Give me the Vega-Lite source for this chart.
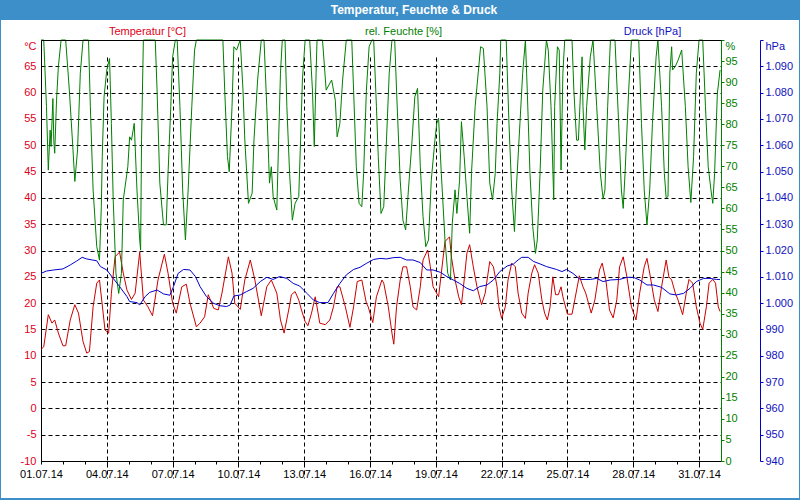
{
  "$schema": "https://vega.github.io/schema/vega-lite/v6.json",
  "background": "#3d8fca",
  "padding": {"left": 1, "top": 0, "right": 1, "bottom": 2},
  "spacing": 0,
  "config": {
    "view": {"stroke": null},
    "font": "Liberation Sans",
    "axis": {"labelFont": "Liberation Sans", "titleFont": "Liberation Sans", "labelFontSize": 11, "titleFontSize": 11, "titleFontWeight": "normal", "domainWidth": 1}
  },
  "datasets": {
    "temp": [{"t":"2014-07-01T00:00","v":11.2},{"t":"2014-07-01T03:00","v":11.7},{"t":"2014-07-01T08:00","v":17.8},{"t":"2014-07-01T12:00","v":16.2},{"t":"2014-07-01T15:00","v":16.8},{"t":"2014-07-01T19:00","v":14.3},{"t":"2014-07-02T00:00","v":11.9},{"t":"2014-07-02T03:00","v":11.9},{"t":"2014-07-02T08:00","v":16.8},{"t":"2014-07-02T13:00","v":19.7},{"t":"2014-07-02T17:00","v":18.1},{"t":"2014-07-02T22:00","v":12.7},{"t":"2014-07-03T02:00","v":10.5},{"t":"2014-07-03T05:00","v":10.8},{"t":"2014-07-03T09:00","v":19.3},{"t":"2014-07-03T13:00","v":23.8},{"t":"2014-07-03T16:00","v":24.4},{"t":"2014-07-03T20:00","v":18.1},{"t":"2014-07-03T22:00","v":14.9},{"t":"2014-07-04T02:00","v":14.3},{"t":"2014-07-04T05:00","v":21.9},{"t":"2014-07-04T09:00","v":28.8},{"t":"2014-07-04T14:00","v":29.7},{"t":"2014-07-04T18:00","v":25.7},{"t":"2014-07-04T22:00","v":22.5},{"t":"2014-07-05T03:00","v":20.7},{"t":"2014-07-05T07:00","v":21.9},{"t":"2014-07-05T12:00","v":29.7},{"t":"2014-07-05T16:00","v":20.6},{"t":"2014-07-05T21:00","v":19.3},{"t":"2014-07-06T02:00","v":17.6},{"t":"2014-07-06T08:00","v":24.4},{"t":"2014-07-06T15:00","v":29.3},{"t":"2014-07-06T19:00","v":25.7},{"t":"2014-07-07T00:00","v":20.0},{"t":"2014-07-07T04:00","v":18.1},{"t":"2014-07-07T10:00","v":23.1},{"t":"2014-07-07T15:00","v":23.6},{"t":"2014-07-07T19:00","v":20.0},{"t":"2014-07-08T02:00","v":15.5},{"t":"2014-07-08T06:00","v":16.2},{"t":"2014-07-08T11:00","v":17.4},{"t":"2014-07-08T15:00","v":21.6},{"t":"2014-07-08T21:00","v":19.0},{"t":"2014-07-09T02:00","v":18.7},{"t":"2014-07-09T06:00","v":21.9},{"t":"2014-07-09T13:00","v":28.8},{"t":"2014-07-09T17:00","v":25.7},{"t":"2014-07-09T20:00","v":20.0},{"t":"2014-07-10T02:00","v":18.8},{"t":"2014-07-10T07:00","v":24.4},{"t":"2014-07-10T13:00","v":28.2},{"t":"2014-07-10T18:00","v":24.4},{"t":"2014-07-11T01:00","v":17.6},{"t":"2014-07-11T07:00","v":23.1},{"t":"2014-07-11T12:00","v":24.4},{"t":"2014-07-11T18:00","v":21.9},{"t":"2014-07-11T21:00","v":18.1},{"t":"2014-07-11T22:00","v":16.8},{"t":"2014-07-12T02:00","v":14.3},{"t":"2014-07-12T07:00","v":18.7},{"t":"2014-07-12T10:00","v":21.6},{"t":"2014-07-12T14:00","v":22.2},{"t":"2014-07-12T18:00","v":20.6},{"t":"2014-07-12T21:00","v":18.7},{"t":"2014-07-13T01:00","v":16.5},{"t":"2014-07-13T04:00","v":15.7},{"t":"2014-07-13T08:00","v":18.1},{"t":"2014-07-13T12:00","v":21.2},{"t":"2014-07-13T14:00","v":19.3},{"t":"2014-07-13T17:00","v":16.2},{"t":"2014-07-13T23:00","v":15.9},{"t":"2014-07-14T04:00","v":16.8},{"t":"2014-07-14T08:00","v":19.3},{"t":"2014-07-14T12:00","v":23.1},{"t":"2014-07-14T15:00","v":23.1},{"t":"2014-07-14T21:00","v":19.3},{"t":"2014-07-15T02:00","v":15.4},{"t":"2014-07-15T06:00","v":19.3},{"t":"2014-07-15T10:00","v":24.1},{"t":"2014-07-15T15:00","v":24.4},{"t":"2014-07-15T20:00","v":20.0},{"t":"2014-07-15T22:00","v":19.3},{"t":"2014-07-16T03:00","v":16.3},{"t":"2014-07-16T07:00","v":21.2},{"t":"2014-07-16T13:00","v":24.4},{"t":"2014-07-16T15:00","v":23.8},{"t":"2014-07-16T20:00","v":19.3},{"t":"2014-07-17T00:00","v":14.3},{"t":"2014-07-17T02:00","v":12.2},{"t":"2014-07-17T05:00","v":19.3},{"t":"2014-07-17T09:00","v":24.4},{"t":"2014-07-17T12:00","v":26.9},{"t":"2014-07-17T16:00","v":26.9},{"t":"2014-07-17T20:00","v":23.1},{"t":"2014-07-17T23:00","v":19.3},{"t":"2014-07-18T03:00","v":18.7},{"t":"2014-07-18T07:00","v":23.1},{"t":"2014-07-18T10:00","v":28.2},{"t":"2014-07-18T15:00","v":30.1},{"t":"2014-07-18T18:00","v":26.9},{"t":"2014-07-18T21:00","v":23.1},{"t":"2014-07-19T03:00","v":21.2},{"t":"2014-07-19T06:00","v":25.7},{"t":"2014-07-19T10:00","v":31.7},{"t":"2014-07-19T15:00","v":32.6},{"t":"2014-07-19T17:00","v":28.8},{"t":"2014-07-19T21:00","v":24.4},{"t":"2014-07-20T01:00","v":21.2},{"t":"2014-07-20T04:00","v":19.7},{"t":"2014-07-20T07:00","v":24.4},{"t":"2014-07-20T10:00","v":29.5},{"t":"2014-07-20T13:00","v":31.1},{"t":"2014-07-20T17:00","v":26.9},{"t":"2014-07-20T21:00","v":23.1},{"t":"2014-07-21T02:00","v":19.7},{"t":"2014-07-21T06:00","v":21.9},{"t":"2014-07-21T11:00","v":27.9},{"t":"2014-07-21T15:00","v":26.9},{"t":"2014-07-21T19:00","v":23.1},{"t":"2014-07-21T21:00","v":19.3},{"t":"2014-07-22T00:00","v":17.1},{"t":"2014-07-22T04:00","v":19.3},{"t":"2014-07-22T07:00","v":24.4},{"t":"2014-07-22T11:00","v":27.6},{"t":"2014-07-22T15:00","v":26.9},{"t":"2014-07-22T18:00","v":21.9},{"t":"2014-07-22T22:00","v":18.1},{"t":"2014-07-23T02:00","v":17.1},{"t":"2014-07-23T05:00","v":21.9},{"t":"2014-07-23T09:00","v":25.7},{"t":"2014-07-23T12:00","v":27.3},{"t":"2014-07-23T16:00","v":25.7},{"t":"2014-07-23T20:00","v":20.6},{"t":"2014-07-23T23:00","v":18.1},{"t":"2014-07-24T02:00","v":16.8},{"t":"2014-07-24T05:00","v":19.3},{"t":"2014-07-24T08:00","v":25.0},{"t":"2014-07-24T11:00","v":21.6},{"t":"2014-07-24T14:00","v":21.6},{"t":"2014-07-24T17:00","v":23.1},{"t":"2014-07-24T19:00","v":21.2},{"t":"2014-07-25T00:00","v":17.9},{"t":"2014-07-25T05:00","v":17.9},{"t":"2014-07-25T08:00","v":20.6},{"t":"2014-07-25T13:00","v":25.2},{"t":"2014-07-25T17:00","v":23.1},{"t":"2014-07-25T20:00","v":21.9},{"t":"2014-07-25T23:00","v":20.0},{"t":"2014-07-26T02:00","v":18.1},{"t":"2014-07-26T06:00","v":20.6},{"t":"2014-07-26T11:00","v":26.3},{"t":"2014-07-26T14:00","v":27.6},{"t":"2014-07-26T18:00","v":24.4},{"t":"2014-07-26T22:00","v":18.7},{"t":"2014-07-27T02:00","v":17.2},{"t":"2014-07-27T06:00","v":20.6},{"t":"2014-07-27T09:00","v":26.9},{"t":"2014-07-27T13:00","v":28.8},{"t":"2014-07-27T17:00","v":25.0},{"t":"2014-07-27T22:00","v":19.3},{"t":"2014-07-28T03:00","v":16.8},{"t":"2014-07-28T07:00","v":21.9},{"t":"2014-07-28T12:00","v":26.9},{"t":"2014-07-28T15:00","v":28.5},{"t":"2014-07-28T18:00","v":25.7},{"t":"2014-07-28T23:00","v":20.6},{"t":"2014-07-29T03:00","v":18.4},{"t":"2014-07-29T07:00","v":23.1},{"t":"2014-07-29T12:00","v":28.2},{"t":"2014-07-29T15:00","v":25.0},{"t":"2014-07-29T18:00","v":24.4},{"t":"2014-07-29T22:00","v":21.9},{"t":"2014-07-30T01:00","v":20.6},{"t":"2014-07-30T06:00","v":17.8},{"t":"2014-07-30T10:00","v":21.9},{"t":"2014-07-30T13:00","v":24.5},{"t":"2014-07-30T17:00","v":23.8},{"t":"2014-07-30T21:00","v":19.3},{"t":"2014-07-31T01:00","v":16.2},{"t":"2014-07-31T04:00","v":15.0},{"t":"2014-07-31T08:00","v":19.3},{"t":"2014-07-31T11:00","v":23.8},{"t":"2014-07-31T15:00","v":24.5},{"t":"2014-07-31T18:00","v":23.8},{"t":"2014-07-31T21:00","v":19.3},{"t":"2014-07-31T23:00","v":18.4}],
    "hum": [{"t":"2014-07-01T00:00","v":100},{"t":"2014-07-01T03:00","v":100},{"t":"2014-07-01T06:00","v":84.2},{"t":"2014-07-01T08:00","v":69.1},{"t":"2014-07-01T10:00","v":78.6},{"t":"2014-07-01T11:00","v":74.7},{"t":"2014-07-01T13:00","v":86.1},{"t":"2014-07-01T14:00","v":76.2},{"t":"2014-07-01T15:00","v":73.1},{"t":"2014-07-01T17:00","v":85.7},{"t":"2014-07-01T19:00","v":93.7},{"t":"2014-07-01T22:00","v":100},{"t":"2014-07-02T03:00","v":100},{"t":"2014-07-02T07:00","v":88.1},{"t":"2014-07-02T11:00","v":73.9},{"t":"2014-07-02T13:00","v":66.4},{"t":"2014-07-02T16:00","v":73.9},{"t":"2014-07-02T19:00","v":92.1},{"t":"2014-07-02T22:00","v":100},{"t":"2014-07-03T04:00","v":100},{"t":"2014-07-03T06:00","v":84.2},{"t":"2014-07-03T09:00","v":64.4},{"t":"2014-07-03T13:00","v":50.9},{"t":"2014-07-03T16:00","v":47.7},{"t":"2014-07-03T18:00","v":60.4},{"t":"2014-07-03T19:00","v":72.3},{"t":"2014-07-03T21:00","v":86.5},{"t":"2014-07-04T00:00","v":92.9},{"t":"2014-07-04T03:00","v":95.6},{"t":"2014-07-04T05:00","v":80.2},{"t":"2014-07-04T07:00","v":62.0},{"t":"2014-07-04T10:00","v":44.6},{"t":"2014-07-04T13:00","v":39.8},{"t":"2014-07-04T16:00","v":44.6},{"t":"2014-07-04T18:00","v":62.0},{"t":"2014-07-04T23:00","v":69.9},{"t":"2014-07-05T01:00","v":77.0},{"t":"2014-07-05T03:00","v":76.2},{"t":"2014-07-05T06:00","v":80.2},{"t":"2014-07-05T09:00","v":64.4},{"t":"2014-07-05T12:00","v":52.5},{"t":"2014-07-05T13:00","v":50.1},{"t":"2014-07-05T14:00","v":76.2},{"t":"2014-07-05T16:00","v":100},{"t":"2014-07-06T05:00","v":100},{"t":"2014-07-06T07:00","v":88.1},{"t":"2014-07-06T10:00","v":66.0},{"t":"2014-07-06T14:00","v":56.1},{"t":"2014-07-06T17:00","v":56.1},{"t":"2014-07-06T19:00","v":68.3},{"t":"2014-07-06T22:00","v":84.2},{"t":"2014-07-07T00:00","v":96.0},{"t":"2014-07-07T03:00","v":100},{"t":"2014-07-07T05:00","v":100},{"t":"2014-07-07T08:00","v":84.2},{"t":"2014-07-07T11:00","v":64.4},{"t":"2014-07-07T14:00","v":52.5},{"t":"2014-07-07T17:00","v":64.4},{"t":"2014-07-07T21:00","v":84.2},{"t":"2014-07-08T00:00","v":97.6},{"t":"2014-07-08T02:00","v":100},{"t":"2014-07-09T07:00","v":100},{"t":"2014-07-09T09:00","v":88.1},{"t":"2014-07-09T12:00","v":72.3},{"t":"2014-07-09T14:00","v":68.7},{"t":"2014-07-09T17:00","v":84.2},{"t":"2014-07-09T19:00","v":98.4},{"t":"2014-07-09T22:00","v":97.6},{"t":"2014-07-10T02:00","v":100},{"t":"2014-07-10T05:00","v":88.1},{"t":"2014-07-10T07:00","v":76.2},{"t":"2014-07-10T11:00","v":61.2},{"t":"2014-07-10T15:00","v":63.6},{"t":"2014-07-10T17:00","v":76.2},{"t":"2014-07-10T21:00","v":90.5},{"t":"2014-07-11T01:00","v":100},{"t":"2014-07-11T04:00","v":100},{"t":"2014-07-11T07:00","v":84.2},{"t":"2014-07-11T10:00","v":66.0},{"t":"2014-07-11T12:00","v":69.9},{"t":"2014-07-11T14:00","v":62.8},{"t":"2014-07-11T18:00","v":59.6},{"t":"2014-07-11T20:00","v":76.2},{"t":"2014-07-11T22:00","v":92.1},{"t":"2014-07-12T00:00","v":100},{"t":"2014-07-12T03:00","v":100},{"t":"2014-07-12T05:00","v":84.2},{"t":"2014-07-12T08:00","v":68.3},{"t":"2014-07-12T11:00","v":57.2},{"t":"2014-07-12T14:00","v":61.2},{"t":"2014-07-12T18:00","v":62.8},{"t":"2014-07-12T20:00","v":76.2},{"t":"2014-07-12T22:00","v":90.5},{"t":"2014-07-13T01:00","v":100},{"t":"2014-07-13T06:00","v":100},{"t":"2014-07-13T09:00","v":88.1},{"t":"2014-07-13T11:00","v":74.7},{"t":"2014-07-13T13:00","v":92.1},{"t":"2014-07-13T14:00","v":100},{"t":"2014-07-13T20:00","v":100},{"t":"2014-07-14T00:00","v":88.1},{"t":"2014-07-14T06:00","v":90.5},{"t":"2014-07-14T10:00","v":85.7},{"t":"2014-07-14T12:00","v":77.0},{"t":"2014-07-14T15:00","v":80.2},{"t":"2014-07-14T18:00","v":90.5},{"t":"2014-07-14T22:00","v":100},{"t":"2014-07-15T04:00","v":100},{"t":"2014-07-15T06:00","v":88.1},{"t":"2014-07-15T09:00","v":69.9},{"t":"2014-07-15T12:00","v":61.2},{"t":"2014-07-15T15:00","v":60.4},{"t":"2014-07-15T17:00","v":68.3},{"t":"2014-07-15T20:00","v":88.1},{"t":"2014-07-15T23:00","v":98.4},{"t":"2014-07-16T02:00","v":100},{"t":"2014-07-16T04:00","v":100},{"t":"2014-07-16T07:00","v":84.2},{"t":"2014-07-16T09:00","v":72.3},{"t":"2014-07-16T12:00","v":58.8},{"t":"2014-07-16T15:00","v":60.4},{"t":"2014-07-16T18:00","v":76.2},{"t":"2014-07-16T21:00","v":92.1},{"t":"2014-07-17T00:00","v":100},{"t":"2014-07-17T03:00","v":100},{"t":"2014-07-17T05:00","v":88.1},{"t":"2014-07-17T09:00","v":66.7},{"t":"2014-07-17T12:00","v":57.2},{"t":"2014-07-17T15:00","v":54.9},{"t":"2014-07-17T18:00","v":64.4},{"t":"2014-07-17T22:00","v":76.2},{"t":"2014-07-18T01:00","v":86.5},{"t":"2014-07-18T04:00","v":88.5},{"t":"2014-07-18T07:00","v":69.9},{"t":"2014-07-18T10:00","v":58.0},{"t":"2014-07-18T13:00","v":50.9},{"t":"2014-07-18T16:00","v":52.5},{"t":"2014-07-18T19:00","v":66.7},{"t":"2014-07-18T23:00","v":76.2},{"t":"2014-07-19T01:00","v":80.2},{"t":"2014-07-19T03:00","v":81.4},{"t":"2014-07-19T06:00","v":68.3},{"t":"2014-07-19T10:00","v":52.5},{"t":"2014-07-19T13:00","v":44.6},{"t":"2014-07-19T16:00","v":43.0},{"t":"2014-07-19T18:00","v":56.5},{"t":"2014-07-19T21:00","v":64.4},{"t":"2014-07-19T23:00","v":58.8},{"t":"2014-07-20T02:00","v":66.7},{"t":"2014-07-20T04:00","v":80.6},{"t":"2014-07-20T07:00","v":72.3},{"t":"2014-07-20T10:00","v":62.8},{"t":"2014-07-20T13:00","v":54.1},{"t":"2014-07-20T15:00","v":68.3},{"t":"2014-07-20T19:00","v":84.2},{"t":"2014-07-20T23:00","v":93.7},{"t":"2014-07-21T01:00","v":98.4},{"t":"2014-07-21T04:00","v":98.0},{"t":"2014-07-21T08:00","v":84.2},{"t":"2014-07-21T11:00","v":66.0},{"t":"2014-07-21T14:00","v":62.0},{"t":"2014-07-21T17:00","v":68.3},{"t":"2014-07-21T19:00","v":80.2},{"t":"2014-07-21T22:00","v":92.1},{"t":"2014-07-21T23:00","v":100},{"t":"2014-07-22T05:00","v":100},{"t":"2014-07-22T08:00","v":80.2},{"t":"2014-07-22T11:00","v":64.4},{"t":"2014-07-22T14:00","v":54.5},{"t":"2014-07-22T16:00","v":64.4},{"t":"2014-07-22T20:00","v":80.2},{"t":"2014-07-22T23:00","v":92.1},{"t":"2014-07-23T02:00","v":100},{"t":"2014-07-23T04:00","v":88.1},{"t":"2014-07-23T07:00","v":68.3},{"t":"2014-07-23T10:00","v":55.7},{"t":"2014-07-23T13:00","v":49.3},{"t":"2014-07-23T15:00","v":52.5},{"t":"2014-07-23T18:00","v":68.3},{"t":"2014-07-23T21:00","v":88.1},{"t":"2014-07-24T01:00","v":100},{"t":"2014-07-24T03:00","v":97.6},{"t":"2014-07-24T06:00","v":84.2},{"t":"2014-07-24T09:00","v":62.0},{"t":"2014-07-24T10:00","v":84.2},{"t":"2014-07-24T13:00","v":98.4},{"t":"2014-07-24T15:00","v":97.6},{"t":"2014-07-24T17:00","v":69.1},{"t":"2014-07-24T19:00","v":92.1},{"t":"2014-07-24T21:00","v":100},{"t":"2014-07-25T05:00","v":100},{"t":"2014-07-25T07:00","v":88.1},{"t":"2014-07-25T10:00","v":76.2},{"t":"2014-07-25T12:00","v":76.2},{"t":"2014-07-25T16:00","v":96.0},{"t":"2014-07-25T17:00","v":84.2},{"t":"2014-07-25T19:00","v":73.9},{"t":"2014-07-25T21:00","v":84.2},{"t":"2014-07-26T01:00","v":96.0},{"t":"2014-07-26T04:00","v":100},{"t":"2014-07-26T08:00","v":84.2},{"t":"2014-07-26T12:00","v":68.3},{"t":"2014-07-26T15:00","v":62.2},{"t":"2014-07-26T17:00","v":64.4},{"t":"2014-07-26T20:00","v":84.2},{"t":"2014-07-26T23:00","v":100},{"t":"2014-07-27T04:00","v":100},{"t":"2014-07-27T08:00","v":80.2},{"t":"2014-07-27T11:00","v":64.4},{"t":"2014-07-27T13:00","v":60.0},{"t":"2014-07-27T15:00","v":68.3},{"t":"2014-07-27T19:00","v":88.1},{"t":"2014-07-27T22:00","v":100},{"t":"2014-07-28T06:00","v":100},{"t":"2014-07-28T09:00","v":80.2},{"t":"2014-07-28T12:00","v":64.4},{"t":"2014-07-28T15:00","v":56.1},{"t":"2014-07-28T18:00","v":64.4},{"t":"2014-07-28T21:00","v":80.2},{"t":"2014-07-29T01:00","v":96.0},{"t":"2014-07-29T03:00","v":100},{"t":"2014-07-29T07:00","v":84.2},{"t":"2014-07-29T10:00","v":68.3},{"t":"2014-07-29T12:00","v":62.5},{"t":"2014-07-29T14:00","v":62.8},{"t":"2014-07-29T16:00","v":92.1},{"t":"2014-07-29T18:00","v":98.4},{"t":"2014-07-29T19:00","v":92.9},{"t":"2014-07-29T22:00","v":93.7},{"t":"2014-07-30T01:00","v":95.2},{"t":"2014-07-30T05:00","v":97.6},{"t":"2014-07-30T09:00","v":84.2},{"t":"2014-07-30T12:00","v":69.9},{"t":"2014-07-30T15:00","v":61.4},{"t":"2014-07-30T18:00","v":72.3},{"t":"2014-07-30T21:00","v":92.1},{"t":"2014-07-31T00:00","v":100},{"t":"2014-07-31T04:00","v":100},{"t":"2014-07-31T07:00","v":84.2},{"t":"2014-07-31T10:00","v":69.9},{"t":"2014-07-31T13:00","v":64.4},{"t":"2014-07-31T15:00","v":61.2},{"t":"2014-07-31T17:00","v":68.3},{"t":"2014-07-31T20:00","v":87.3},{"t":"2014-07-31T23:00","v":92.9}],
    "pres": [{"t":"2014-07-01T00:00","v":1011.3},{"t":"2014-07-01T06:00","v":1012.2},{"t":"2014-07-01T14:00","v":1012.6},{"t":"2014-07-02T00:00","v":1013.0},{"t":"2014-07-02T08:00","v":1014.5},{"t":"2014-07-02T15:00","v":1016.0},{"t":"2014-07-02T21:00","v":1017.4},{"t":"2014-07-03T02:00","v":1016.8},{"t":"2014-07-03T08:00","v":1016.4},{"t":"2014-07-03T13:00","v":1016.1},{"t":"2014-07-03T17:00","v":1013.9},{"t":"2014-07-04T00:00","v":1012.6},{"t":"2014-07-04T07:00","v":1009.4},{"t":"2014-07-04T14:00","v":1006.3},{"t":"2014-07-04T22:00","v":1002.5},{"t":"2014-07-05T01:00","v":1000.6},{"t":"2014-07-05T09:00","v":1000.2},{"t":"2014-07-05T12:00","v":999.3},{"t":"2014-07-05T18:00","v":1002.5},{"t":"2014-07-05T23:00","v":1004.1},{"t":"2014-07-06T07:00","v":1005.0},{"t":"2014-07-06T14:00","v":1003.5},{"t":"2014-07-06T21:00","v":1003.0},{"t":"2014-07-07T01:00","v":1006.3},{"t":"2014-07-07T06:00","v":1011.3},{"t":"2014-07-07T12:00","v":1012.8},{"t":"2014-07-07T19:00","v":1012.6},{"t":"2014-07-08T01:00","v":1010.1},{"t":"2014-07-08T06:00","v":1006.3},{"t":"2014-07-08T13:00","v":1002.5},{"t":"2014-07-08T21:00","v":999.9},{"t":"2014-07-09T04:00","v":999.0},{"t":"2014-07-09T11:00","v":998.7},{"t":"2014-07-09T15:00","v":999.3},{"t":"2014-07-09T19:00","v":1002.7},{"t":"2014-07-10T02:00","v":1003.1},{"t":"2014-07-10T09:00","v":1004.4},{"t":"2014-07-10T16:00","v":1005.6},{"t":"2014-07-11T00:00","v":1008.2},{"t":"2014-07-11T07:00","v":1009.8},{"t":"2014-07-11T14:00","v":1009.0},{"t":"2014-07-11T21:00","v":1010.1},{"t":"2014-07-12T05:00","v":1009.4},{"t":"2014-07-12T12:00","v":1007.5},{"t":"2014-07-12T19:00","v":1006.5},{"t":"2014-07-13T03:00","v":1003.7},{"t":"2014-07-13T10:00","v":1001.2},{"t":"2014-07-13T17:00","v":1000.2},{"t":"2014-07-14T02:00","v":1000.2},{"t":"2014-07-14T08:00","v":1003.7},{"t":"2014-07-14T15:00","v":1007.5},{"t":"2014-07-14T22:00","v":1010.7},{"t":"2014-07-15T06:00","v":1012.8},{"t":"2014-07-15T13:00","v":1013.6},{"t":"2014-07-15T20:00","v":1015.1},{"t":"2014-07-16T04:00","v":1016.6},{"t":"2014-07-16T11:00","v":1017.0},{"t":"2014-07-16T18:00","v":1016.8},{"t":"2014-07-17T02:00","v":1017.3},{"t":"2014-07-17T09:00","v":1017.4},{"t":"2014-07-17T16:00","v":1016.4},{"t":"2014-07-17T23:00","v":1016.4},{"t":"2014-07-18T07:00","v":1015.4},{"t":"2014-07-18T14:00","v":1012.6},{"t":"2014-07-18T21:00","v":1012.6},{"t":"2014-07-19T05:00","v":1011.7},{"t":"2014-07-19T12:00","v":1010.1},{"t":"2014-07-19T19:00","v":1008.8},{"t":"2014-07-20T02:00","v":1007.5},{"t":"2014-07-20T10:00","v":1005.6},{"t":"2014-07-20T17:00","v":1004.7},{"t":"2014-07-21T00:00","v":1006.3},{"t":"2014-07-21T08:00","v":1006.9},{"t":"2014-07-21T15:00","v":1008.8},{"t":"2014-07-21T22:00","v":1012.0},{"t":"2014-07-22T06:00","v":1014.1},{"t":"2014-07-22T13:00","v":1014.9},{"t":"2014-07-22T18:00","v":1016.4},{"t":"2014-07-22T22:00","v":1017.4},{"t":"2014-07-23T05:00","v":1017.4},{"t":"2014-07-23T11:00","v":1015.8},{"t":"2014-07-23T18:00","v":1014.9},{"t":"2014-07-24T01:00","v":1013.9},{"t":"2014-07-24T12:00","v":1012.8},{"t":"2014-07-24T18:00","v":1012.0},{"t":"2014-07-24T23:00","v":1012.8},{"t":"2014-07-25T06:00","v":1011.3},{"t":"2014-07-25T14:00","v":1009.0},{"t":"2014-07-26T01:00","v":1009.0},{"t":"2014-07-26T08:00","v":1009.4},{"t":"2014-07-26T15:00","v":1008.2},{"t":"2014-07-26T23:00","v":1008.8},{"t":"2014-07-27T09:00","v":1009.0},{"t":"2014-07-27T17:00","v":1009.8},{"t":"2014-07-28T00:00","v":1009.8},{"t":"2014-07-28T07:00","v":1008.8},{"t":"2014-07-28T15:00","v":1006.9},{"t":"2014-07-28T22:00","v":1006.9},{"t":"2014-07-29T07:00","v":1006.0},{"t":"2014-07-29T16:00","v":1003.5},{"t":"2014-07-29T23:00","v":1003.1},{"t":"2014-07-30T07:00","v":1003.7},{"t":"2014-07-30T14:00","v":1005.6},{"t":"2014-07-30T21:00","v":1008.2},{"t":"2014-07-31T05:00","v":1009.4},{"t":"2014-07-31T12:00","v":1009.4},{"t":"2014-07-31T19:00","v":1009.0},{"t":"2014-07-31T23:00","v":1009.0}]
  },
  "vconcat": [
    {
      "width": 798,
      "height": 20,
      "data": {"values": [{"title": "Temperatur, Feuchte & Druck"}]},
      "mark": {"type": "text", "color": "white", "fontWeight": "bold", "fontSize": 12, "font": "Liberation Sans", "dx": 14},
      "encoding": {"text": {"field": "title"}}
    },
    {
      "width": 798,
      "height": 478,
      "view": {"fill": "white", "stroke": null},
      "resolve": {"scale": {"y": "independent"}, "axis": {"y": "independent", "x": "independent"}},
      "layer": [
        {
          "data": {"name": "temp"},
          "mark": {"type": "line", "color": "#cc0000", "strokeWidth": 1},
          "encoding": {
            "x": {
              "field": "t", "type": "temporal",
              "scale": {"domain": [{"year": 2014, "month": 7, "date": 1}, {"year": 2014, "month": 8, "date": 1}], "range": [40, 720]},
              "axis": {
                "orient": "bottom", "offset": -37, "title": null,
                "values": [{"year":2014,"month":7,"date":1},{"year":2014,"month":7,"date":2},{"year":2014,"month":7,"date":3},{"year":2014,"month":7,"date":4},{"year":2014,"month":7,"date":5},{"year":2014,"month":7,"date":6},{"year":2014,"month":7,"date":7},{"year":2014,"month":7,"date":8},{"year":2014,"month":7,"date":9},{"year":2014,"month":7,"date":10},{"year":2014,"month":7,"date":11},{"year":2014,"month":7,"date":12},{"year":2014,"month":7,"date":13},{"year":2014,"month":7,"date":14},{"year":2014,"month":7,"date":15},{"year":2014,"month":7,"date":16},{"year":2014,"month":7,"date":17},{"year":2014,"month":7,"date":18},{"year":2014,"month":7,"date":19},{"year":2014,"month":7,"date":20},{"year":2014,"month":7,"date":21},{"year":2014,"month":7,"date":22},{"year":2014,"month":7,"date":23},{"year":2014,"month":7,"date":24},{"year":2014,"month":7,"date":25},{"year":2014,"month":7,"date":26},{"year":2014,"month":7,"date":27},{"year":2014,"month":7,"date":28},{"year":2014,"month":7,"date":29},{"year":2014,"month":7,"date":30},{"year":2014,"month":7,"date":31}],
                "labelExpr": "(date(datum.value) - 1) % 3 == 0 ? timeFormat(datum.value, '%d.%m.%y') : ''",
                "labelColor": "#000000", "labelPadding": 4, "labelOverlap": false, "labelFlush": false,
                "tickSize": 3, "tickColor": "#000000", "domainColor": "#000000",
                "grid": true, "gridColor": "#000000", "gridDash": [4, 3],
                "gridOpacity": {"condition": {"test": "(date(datum.value) - 1) % 3 == 0 && date(datum.value) > 1", "value": 1}, "value": 0}
              }
            },
            "y": {
              "field": "v", "type": "quantitative",
              "scale": {"domain": [-10, 70], "range": [441, 20], "nice": false, "zero": false},
              "axis": {
                "orient": "left", "offset": -40,
                "values": [-10, -5, 0, 5, 10, 15, 20, 25, 30, 35, 40, 45, 50, 55, 60, 65, 70],
                "labelExpr": "datum.value == 70 ? '°C' : '' + datum.value",
                "labelBaseline": {"condition": {"test": "datum.value == 70", "value": "top"}, "value": "middle"},
                "labelColor": "#dd0020", "labelPadding": 5, "ticks": false,
                "domainColor": "#000000",
                "grid": true, "gridColor": "#000000", "gridDash": [4, 3],
                "title": "Temperatur [°C]", "titleAngle": 0, "titleX": 106, "titleY": 11.5,
                "titleAlign": "center", "titleBaseline": "middle", "titleColor": "#dd0020"
              }
            }
          }
        },
        {
          "data": {"name": "hum"},
          "mark": {"type": "line", "color": "#008000", "strokeWidth": 1},
          "encoding": {
            "x": {
              "field": "t", "type": "temporal",
              "scale": {"domain": [{"year": 2014, "month": 7, "date": 1}, {"year": 2014, "month": 8, "date": 1}], "range": [40, 720]},
              "axis": {"orient": "top", "offset": -20, "title": null, "labels": false, "ticks": false, "grid": false, "domainColor": "#000000", "zindex": 1}
            },
            "y": {
              "field": "v", "type": "quantitative",
              "scale": {"domain": [0, 100], "range": [441, 20], "nice": false, "zero": false},
              "axis": {
                "orient": "right", "offset": -78,
                "values": [0, 5, 10, 15, 20, 25, 30, 35, 40, 45, 50, 55, 60, 65, 70, 75, 80, 85, 90, 95, 100],
                "labelExpr": "datum.value == 100 ? '%' : '' + datum.value",
                "labelBaseline": {"condition": {"test": "datum.value == 100", "value": "top"}, "value": "middle"},
                "labelColor": "#008000", "labelPadding": 1,
                "tickSize": 3, "tickColor": "#008000", "domainColor": "#008000",
                "grid": false,
                "title": "rel. Feuchte [%]", "titleAngle": 0, "titleX": -318, "titleY": 11.5,
                "titleAlign": "center", "titleBaseline": "middle", "titleColor": "#008000"
              }
            }
          }
        },
        {
          "data": {"name": "pres"},
          "mark": {"type": "line", "color": "#0000cc", "strokeWidth": 1},
          "encoding": {
            "x": {
              "field": "t", "type": "temporal",
              "scale": {"domain": [{"year": 2014, "month": 7, "date": 1}, {"year": 2014, "month": 8, "date": 1}], "range": [40, 720]},
              "axis": null
            },
            "y": {
              "field": "v", "type": "quantitative",
              "scale": {"domain": [940, 1100], "range": [441, 20], "nice": false, "zero": false},
              "axis": {
                "orient": "right", "offset": -39,
                "values": [940, 950, 960, 970, 980, 990, 1000, 1010, 1020, 1030, 1040, 1050, 1060, 1070, 1080, 1090, 1100],
                "labelExpr": "datum.value == 1100 ? 'hPa' : replace(format(datum.value, ','), ',', '.')",
                "labelBaseline": {"condition": {"test": "datum.value == 1100", "value": "top"}, "value": "middle"},
                "labelColor": "#1010c0", "labelPadding": 2,
                "tickSize": 3, "tickColor": "#0000cc", "domainColor": "#0000cc",
                "grid": false,
                "title": "Druck [hPa]", "titleAngle": 0, "titleX": -108, "titleY": 11.5,
                "titleAlign": "center", "titleBaseline": "middle", "titleColor": "#1010c0"
              }
            }
          }
        }
      ]
    }
  ]
}
